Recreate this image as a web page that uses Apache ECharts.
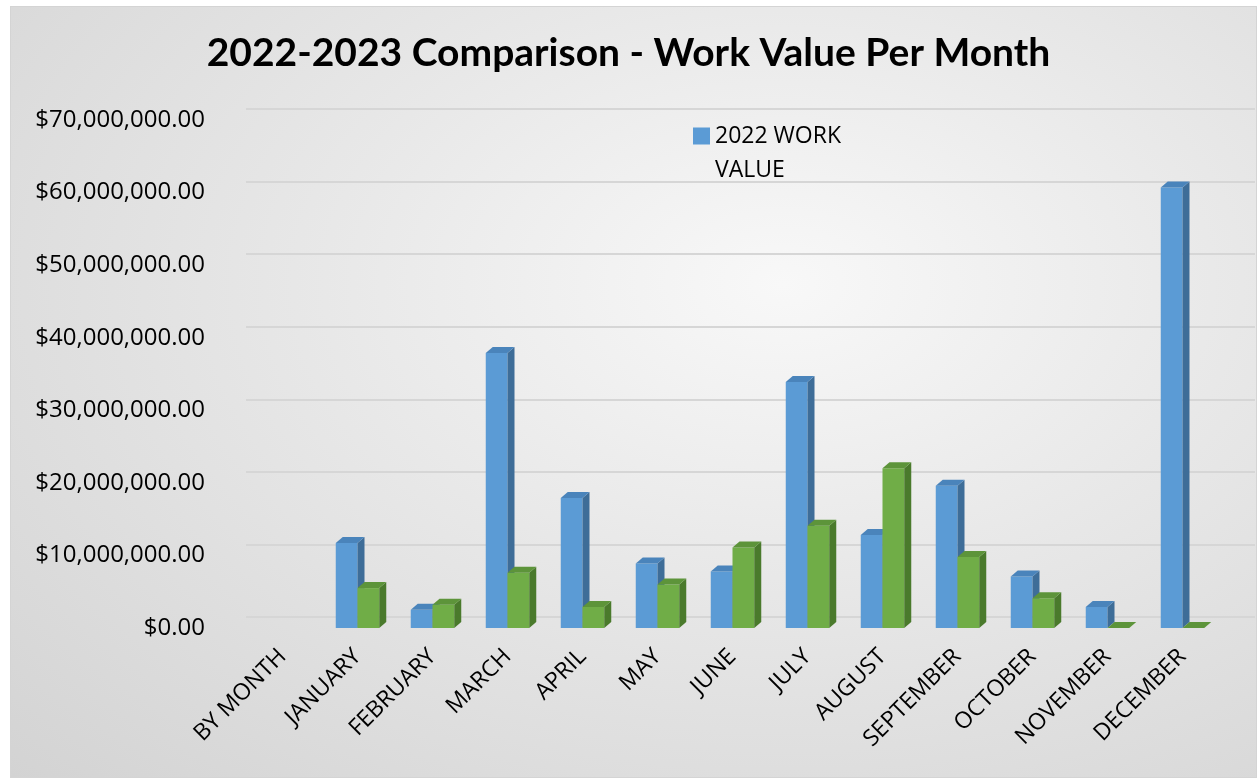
<!DOCTYPE html>
<html>
<head>
<meta charset="utf-8">
<script src="https://cdn.jsdelivr.net/npm/echarts@6/dist/echarts.min.js"></script>
<style>
    html, body {margin: 0; padding: 0; background: #fff;}
    #card {
        position: absolute; left: 10px; top: 6px; width: 1245px; height: 770px;
        border: 1px solid #d4d4d4;
        background: radial-gradient(ellipse at 62% 36%, #f8f8f8 0%, #e8e8e8 42%, #d3d3d3 100%);
    }
    #chart {position: absolute; left: 0; top: 0; width: 1257px; height: 778px;}
</style>
</head>
<body>
<div id="card"></div>
<div id="chart"></div>
<script>
    const months = ["BY MONTH", "JANUARY", "FEBRUARY", "MARCH", "APRIL", "MAY", "JUNE",
        "JULY", "AUGUST", "SEPTEMBER", "OCTOBER", "NOVEMBER", "DECEMBER"];
    const workValue2022 = [null, 11.7e6, 2.5e6, 37.9e6, 17.9e6, 8.9e6, 7.8e6,
        33.9e6, 12.8e6, 19.6e6, 7.1e6, 2.9e6, 60.7e6];
    const workValue2023 = [null, 5.5e6, 3.2e6, 7.6e6, 2.9e6, 6.0e6, 11.1e6,
        14.1e6, 22.0e6, 9.8e6, 4.1e6, 0, 0];
    const yTicks = [0, 10e6, 20e6, 30e6, 40e6, 50e6, 60e6, 70e6];

    const chart = echarts.init(document.getElementById("chart"));

    // little 3d boxes: front face, top and right side
    const box = (side, colors) => (params, api) => {
        const c = api.coord([api.value(0), 0]);
        const top = api.coord([api.value(0), api.value(1)])[1];
        const w = api.size([1, 0])[0] * 0.29;
        const x = side === 0 ? c[0] - w : c[0];
        const y0 = c[1];
        const dx = 7, dy = -6;
        return {
            type: "group",
            children: [
                {type: "rect", shape: {x: x, y: top, width: w, height: y0 - top},
                    style: {fill: colors[0]}},
                {type: "polygon", shape: {points: [[x + w, top], [x + w + dx, top + dy],
                    [x + w + dx, y0 + dy], [x + w, y0]]}, style: {fill: colors[1]}},
                {type: "polygon", shape: {points: [[x, top], [x + dx, top + dy],
                    [x + w + dx, top + dy], [x + w, top]]}, style: {fill: colors[2]}}
            ]
        };
    };

    const toData = arr => arr.map((v, i) => v === null ? null : [i, v]).filter(d => d);

    chart.setOption({
        title: {
            text: "2022-2023 Comparison - Work Value Per Month",
            left: "center",
            top: 29,
            textStyle: {fontFamily: "Lato", fontWeight: "bold", fontSize: 39, color: "#000"}
        },
        legend: {
            left: 688,
            top: 114,
            data: ["2022 WORK VALUE"],
            // square sits at the top of a taller box so it lines up with the first text line
            icon: "path://M0,0L17,0L17,17L0,17Z M0,51L0.01,51L0,51Z",
            itemWidth: 17,
            itemHeight: 51,
            formatter: () => "2022 WORK\nVALUE",
            textStyle: {fontFamily: "Open Sans", fontSize: 23, color: "#000", lineHeight: 34}
        },
        grid: [
            {left: 245, right: 37, top: 120, bottom: 150},
            {left: 246, right: 2, top: 109, bottom: 161}
        ],
        xAxis: [
            {
                type: "category",
                data: months,
                gridIndex: 0,
                axisLine: {show: false},
                axisTick: {show: false},
                axisLabel: {rotate: 45, fontFamily: "Open Sans", fontSize: 23, color: "#000", margin: 25, interval: 0}
            },
            {type: "category", data: months, gridIndex: 1, show: false}
        ],
        yAxis: [
            {
                type: "value",
                gridIndex: 0,
                min: yTicks[0],
                max: yTicks[yTicks.length - 1],
                interval: 10e6,
                splitLine: {show: false},
                axisLabel: {
                    fontFamily: "Open Sans", fontSize: 24, color: "#000", margin: 40,
                    formatter: v => "$" + v.toLocaleString("en-US", {minimumFractionDigits: 2, maximumFractionDigits: 2})
                }
            },
            {
                type: "value",
                gridIndex: 1,
                min: yTicks[0],
                max: yTicks[yTicks.length - 1],
                interval: 10e6,
                axisLabel: {show: false},
                axisLine: {show: false},
                axisTick: {show: false},
                splitLine: {lineStyle: {color: "#d6d6d6", width: 2}}
            }
        ],
        series: [
            {
                name: "2022 WORK VALUE",
                type: "custom",
                xAxisIndex: 0,
                yAxisIndex: 0,
                itemStyle: {color: "#5b9bd5"},
                encode: {x: 0, y: 1},
                renderItem: box(0, ["#5b9bd5", "#3e6d98", "#4a84bb"]),
                data: toData(workValue2022)
            },
            {
                name: "2023 WORK VALUE",
                type: "custom",
                xAxisIndex: 0,
                yAxisIndex: 0,
                itemStyle: {color: "#70ad47"},
                encode: {x: 0, y: 1},
                renderItem: box(1, ["#70ad47", "#4a7a2c", "#5d943a"]),
                data: toData(workValue2023)
            }
        ]
    });
</script>
</body>
</html>
